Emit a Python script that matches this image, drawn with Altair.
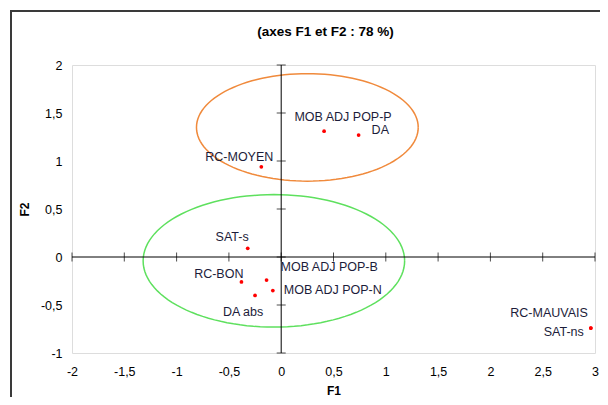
import altair as alt
import numpy as np
import pandas as pd

# ---- data ----
labels = ["MOB ADJ POP-P", "DA", "RC-MOYEN", "SAT-s", "RC-BON", "MOB ADJ POP-B",
          "MOB ADJ POP-N", "DA abs", "RC-MAUVAIS", "SAT-ns"]
f1 = [0.41, 0.74, -0.19, -0.32, -0.38, -0.14, -0.08, -0.25, 2.96, 2.96]
f2 = [1.31, 1.27, 0.94, 0.09, -0.26, -0.24, -0.35, -0.40, -0.74, -0.74]

x_ticks = [-2, -1.5, -1, -0.5, 0, 0.5, 1, 1.5, 2, 2.5, 3]
y_ticks = [-1, -0.5, 0, 0.5, 1, 1.5, 2]

# ellipses: centre x, centre y, half-width, half-height (data units)
ell_names = ["orange", "green"]
ell_cx = [0.25, -0.07]
ell_cy = [1.35, -0.04]
ell_rx = [1.06, 1.25]
ell_ry = [0.56, 0.69]

# ---- styles ----
label_style = {  # label: (align, dx, dy)
    "MOB ADJ POP-P": ("center", 19, -14),
    "DA": ("left", 13, -5),
    "RC-MOYEN": ("right", 12, -10),
    "SAT-s": ("right", 1, -11),
    "RC-BON": ("right", 2, -8),
    "MOB ADJ POP-B": ("left", 14, -13),
    "MOB ADJ POP-N": ("left", 11, -1),
    "DA abs": ("center", -12, 17),
    "RC-MAUVAIS": ("right", -3, -15),
    "SAT-ns": ("right", -7, 4),
}
ell_colors = {"orange": "#F08A3C", "green": "#5EE05E"}

FONT = "Liberation Sans"
xs = alt.Scale(domain=[-2, 3], nice=False, zero=False)
ys = alt.Scale(domain=[-1, 2], nice=False, zero=False)
lab_expr = "replace(toString(datum.value), '.', ',')"
common_axis = dict(labelExpr=lab_expr, domain=False, ticks=False, grid=False,
                   labelFontSize=12.5, titleFontSize=12, labelFont=FONT, titleFont=FONT,
                   labelColor="black", titleColor="black", titleFontWeight="bold",
                   labelFlush=False)
x_axis = alt.Axis(values=x_ticks, labelPadding=12, titlePadding=8, **common_axis)
y_axis = alt.Axis(values=y_ticks, labelPadding=10, titlePadding=9, **common_axis)


def X(field):
    return alt.X(field, type="quantitative", scale=xs, title="F1", axis=x_axis)


def Y(field):
    return alt.Y(field, type="quantitative", scale=ys, title="F2", axis=y_axis)


pts = pd.DataFrame({"label": labels, "f1": f1, "f2": f2})

rows = []
for n, cx, cy, rx, ry in zip(ell_names, ell_cx, ell_cy, ell_rx, ell_ry):
    t = np.linspace(0, 2 * np.pi, 121)
    for i, tt in enumerate(t):
        rows.append({"name": n, "i": i, "x": cx + rx * np.cos(tt), "y": cy + ry * np.sin(tt)})
ell = pd.DataFrame(rows)

one = pd.DataFrame({"z": [0.0]})

frame = alt.Chart(one).mark_rect(fill="transparent", stroke="#3a3a3a", strokeWidth=2).encode(
    x=alt.value(-61), x2=alt.value(560), y=alt.value(-54), y2=alt.value(360)
)

ellipses = []
for n in ell_names:
    ellipses.append(
        alt.Chart(ell[ell["name"] == n]).mark_line(color=ell_colors[n], strokeWidth=1.5).encode(
            x=X("x"), y=Y("y"), order="i:Q",
        )
    )

vrule = alt.Chart(one).mark_rule(color="black", strokeWidth=1).encode(x=X("z"))
hrule = alt.Chart(one).mark_rule(color="black", strokeWidth=1).encode(y=Y("z"))

xt = alt.Chart(pd.DataFrame({"v": x_ticks, "z": 0.0})).mark_tick(
    orient="vertical", size=9, thickness=1, color="black").encode(x=X("v"), y=Y("z"))
yt = alt.Chart(pd.DataFrame({"v": y_ticks, "z": 0.0})).mark_tick(
    orient="horizontal", size=9, thickness=1, color="black").encode(y=Y("v"), x=X("z"))

points = alt.Chart(pts).mark_circle(color="#FF0000", opacity=1, size=14).encode(
    x=X("f1"), y=Y("f2"))

texts = []
for lab in labels:
    a, dx, dy = label_style[lab]
    texts.append(
        alt.Chart(pts[pts["label"] == lab]).mark_text(
            align=a, baseline="middle", dx=dx, dy=dy, font=FONT, fontSize=12.5, color="#1c1c3a"
        ).encode(x=X("f1"), y=Y("f2"), text="label:N")
    )

chart = alt.layer(points, frame, *ellipses, vrule, hrule, xt, yt, *texts).properties(
    width=523, height=288,
    title=alt.Title("(axes F1 et F2 : 78 %)", font=FONT, fontSize=13.5, fontWeight="bold",
                    color="black", anchor="middle", baseline="bottom", offset=-42, dx=-8),
    autosize=alt.AutoSizeParams(type="none"),
    padding={"left": 64, "top": 57, "right": 5, "bottom": 44},
).configure_view(stroke="#8c8c8c", strokeWidth=1).configure(background="white")

chart.save("out.html", embed_options={"renderer": "svg", "actions": False})
